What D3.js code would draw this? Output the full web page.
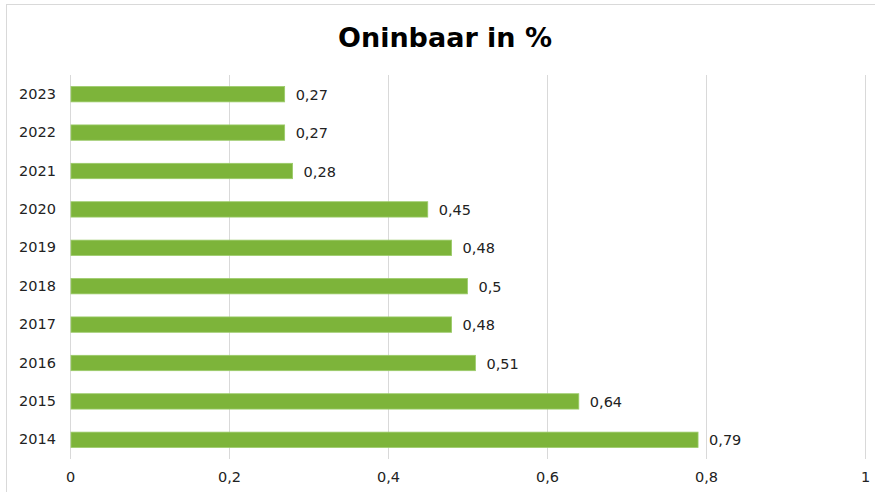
<!DOCTYPE html>
<html>
<head>
<meta charset="utf-8">
<script src="https://cdn.jsdelivr.net/npm/d3@7"></script>
<style>
  body { margin: 0; background: #fff; }
  #chart { width: 875px; height: 492px; }
  text { font-family: "DejaVu Sans", Verdana, sans-serif; fill: #222; }
</style>
</head>
<body>
<div id="chart"></div>
<script>
const years = ["2023", "2022", "2021", "2020", "2019", "2018", "2017", "2016", "2015", "2014"];
const values = [0.27, 0.27, 0.28, 0.45, 0.48, 0.5, 0.48, 0.51, 0.64, 0.79];
const xTicks = [0, 0.2, 0.4, 0.6, 0.8, 1];

const fullWidth = 875;
const fullHeight = 492;
const margin = { top: 75, right: 10, bottom: 33, left: 70 };
const width = fullWidth - margin.left - margin.right;
const height = fullHeight - margin.top - margin.bottom;

const fmt = v => String(v).replace(".", ",");

const root = d3.select("#chart")
  .append("svg")
  .attr("width", fullWidth)
  .attr("height", fullHeight);

// outer frame
root.append("rect")
  .attr("x", 6.5).attr("y", 4.5)
  .attr("width", fullWidth + 10).attr("height", fullHeight + 10)
  .attr("fill", "none")
  .attr("stroke", "#d9d9d9");

root.append("text")
  .attr("x", 445)
  .attr("y", 47)
  .attr("text-anchor", "middle")
  .style("font-size", "27px")
  .style("font-weight", "bold")
  .style("fill", "#000")
  .text("Oninbaar in %");

const svg = root.append("g")
  .attr("transform", `translate(${margin.left},${margin.top})`);

const x = d3.scaleLinear()
  .domain([0, 1])
  .range([0, width]);

const y = d3.scaleBand()
  .domain(years)
  .range([0, height])
  .paddingInner(0.6)
  .paddingOuter(0.3);

// gridlines
svg.append("g")
  .selectAll("line")
  .data(xTicks)
  .enter()
  .append("line")
  .attr("x1", d => Math.round(x(d)) + 0.5)
  .attr("x2", d => Math.round(x(d)) + 0.5)
  .attr("y1", 0)
  .attr("y2", height)
  .attr("stroke", "#d9d9d9");

const xAxis = svg.append("g")
  .attr("transform", `translate(0,${height})`)
  .call(d3.axisBottom(x).tickValues(xTicks).tickFormat(fmt).tickSize(0).tickPadding(13));
xAxis.select(".domain").remove();
xAxis.selectAll("text").style("font-size", "14.5px");

const yAxis = svg.append("g")
  .call(d3.axisLeft(y).tickSize(0).tickPadding(14));
yAxis.select(".domain").remove();
yAxis.selectAll("text").style("font-size", "14.5px");

svg.selectAll("rect.bar")
  .data(values)
  .enter()
  .append("rect")
  .attr("class", "bar")
  .attr("x", x(0) + 1)
  .attr("y", (d, i) => y(years[i]))
  .attr("width", d => x(d) - 1)
  .attr("height", y.bandwidth())
  .attr("fill", "#7db43a")
  .attr("stroke", "#9ccb6a")
  .attr("stroke-width", 0.8);

svg.selectAll("text.val")
  .data(values)
  .enter()
  .append("text")
  .attr("class", "val")
  .attr("x", d => x(d) + 11)
  .attr("y", (d, i) => y(years[i]) + y.bandwidth() / 2)
  .attr("dy", "0.38em")
  .style("font-size", "14.5px")
  .text(fmt);
</script>
</body>
</html>
